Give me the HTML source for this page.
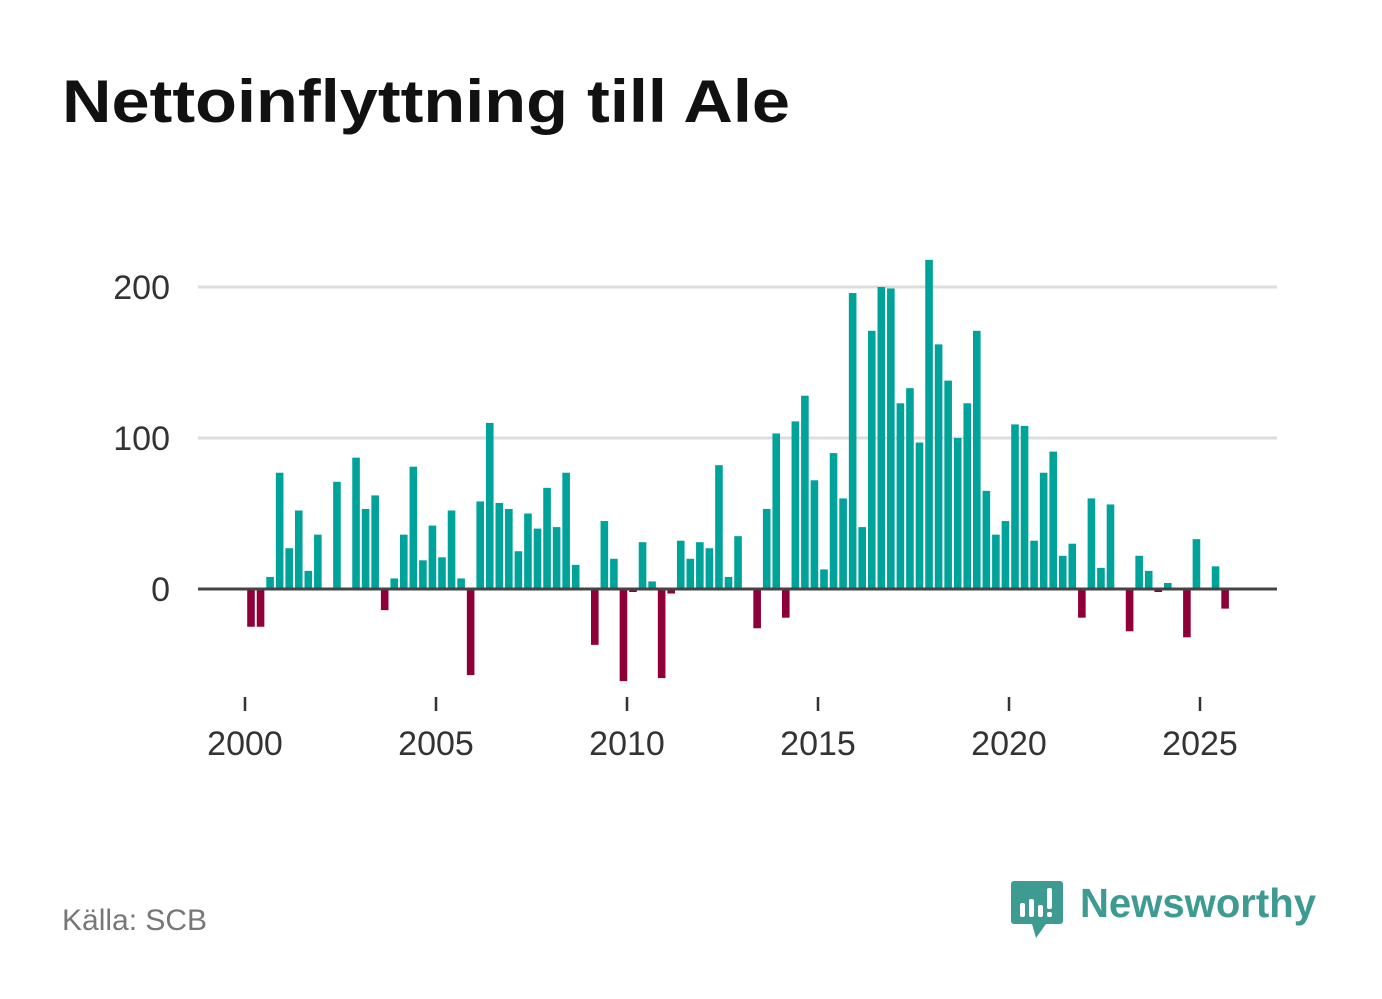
<!DOCTYPE html>
<html><head><meta charset="utf-8"><style>
html,body{margin:0;padding:0;background:#fff;}
svg{display:block;font-family:"Liberation Sans",sans-serif;}
</style></head><body>
<svg id="chart" width="1382" height="999">
<text x="62" y="122" font-size="60" font-weight="bold" fill="#111" textLength="728" lengthAdjust="spacingAndGlyphs">Nettoinflyttning till Ale</text>
<g id="grid"></g><g id="bars"></g><g id="axes"></g>
<text x="62" y="930" font-size="30" fill="#777">Källa: SCB</text>
<g>
<path d="M1014 881 h46 a3 3 0 0 1 3 3 v37 a3 3 0 0 1 -3 3 h-14 l-10 14 l-4 -14 h-18 a3 3 0 0 1 -3 -3 v-37 a3 3 0 0 1 3 -3z" fill="#3d9b91"/>
<rect x="1020" y="903" width="5" height="14" rx="2" fill="#fff"/>
<rect x="1029" y="899" width="5" height="18" rx="2" fill="#fff"/>
<rect x="1038" y="905" width="5" height="12" rx="2" fill="#fff"/>
<rect x="1047" y="888" width="5" height="21" rx="2" fill="#fff"/>
<rect x="1047" y="912" width="5" height="5" rx="2" fill="#fff"/>
<text x="1080" y="917" font-size="41" font-weight="bold" fill="#3d9b91" textLength="236" lengthAdjust="spacingAndGlyphs">Newsworthy</text>
</g>
</svg>
<script>
const values = [-25,-25,8,77, 27,52,12,36, 0,71,1,87, 53,62,-14,7, 36,81,19,42, 21,52,7,-57, 58,110,57,53, 25,50,40,67, 41,77,16,0, -37,45,20,-61, -2,31,5,-59, -3,32,20,31, 27,82,8,35, 1,-26,53,103, -19,111,128,72, 13,90,60,196, 41,171,200,199, 123,133,97,218, 162,138,100,123, 171,65,36,45, 109,108,32,77, 91,22,30,-19, 60,14,56,1, -28,22,12,-2, 4,0,-32,33, 0,15,-13];
const startYear = 2000;
const yTicks = [0,100,200];
const xTicks = [2000,2005,2010,2015,2020,2025];
const NS="http://www.w3.org/2000/svg";
function xs(t){return 245+(t-2000)*38.2;}
function ys(v){return 589-v*1.51;}
function mk(tag,attrs,parent){const e=document.createElementNS(NS,tag);for(const k in attrs)e.setAttribute(k,attrs[k]);document.getElementById(parent).appendChild(e);return e;}
yTicks.forEach(v=>{
  if(v!==0){const l=mk('line',{x1:198,x2:1277,y1:ys(v),y2:ys(v),stroke:'#ddd','stroke-width':3},'grid');
  
  }
  const t=mk('text',{x:170,y:ys(v)+12,'font-size':34,fill:'#333','text-anchor':'end'},'axes');
  t.textContent=v;
  
  
});
values.forEach((v,i)=>{
  const cx=xs(startYear+i*0.25+0.157);
  const r=mk('rect',{x:cx-3.8,width:7.6,y:Math.min(ys(v),ys(0)),height:Math.abs(ys(v)-ys(0)),fill:v>=0?'#00a39a':'#8f0038'},'bars');
  
  
});
const ax=mk('line',{x1:198,x2:1277,y1:589,y2:589,stroke:'#444','stroke-width':3},'axes');


xTicks.forEach(y=>{
  const tk=mk('line',{x1:xs(y),x2:xs(y),y1:697,y2:711,stroke:'#333','stroke-width':2.5},'axes');
  
  
  const t=mk('text',{x:xs(y),y:755,'font-size':34,fill:'#333','text-anchor':'middle'},'axes');
  t.textContent=y;
  
  
});
</script>
</body></html>
